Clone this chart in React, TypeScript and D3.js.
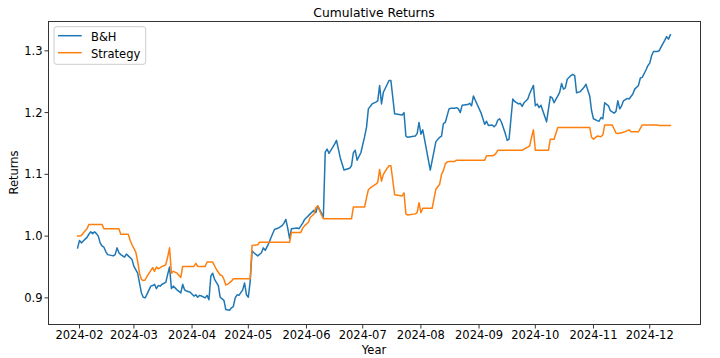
import React from "react";
import * as d3 from "d3";

const bhDates = [
  "2024-01-31","2024-02-01","2024-02-02","2024-02-03","2024-02-05","2024-02-06","2024-02-07","2024-02-08","2024-02-09","2024-02-10",
  "2024-02-11","2024-02-12","2024-02-13","2024-02-14","2024-02-15","2024-02-16","2024-02-19","2024-02-20","2024-02-21","2024-02-22",
  "2024-02-23","2024-02-25","2024-02-26","2024-02-27","2024-02-29","2024-03-01","2024-03-03","2024-03-04","2024-03-05","2024-03-06",
  "2024-03-07","2024-03-08","2024-03-10","2024-03-11","2024-03-12","2024-03-13","2024-03-14","2024-03-15","2024-03-16","2024-03-18",
  "2024-03-19","2024-03-20","2024-03-21","2024-03-22","2024-03-24","2024-03-26","2024-03-27","2024-03-28","2024-03-29","2024-03-31",
  "2024-04-02","2024-04-03","2024-04-04","2024-04-05","2024-04-06","2024-04-08","2024-04-09","2024-04-10","2024-04-11","2024-04-12",
  "2024-04-13","2024-04-15","2024-04-16","2024-04-18","2024-04-19","2024-04-21","2024-04-22","2024-04-23","2024-04-24","2024-04-25",
  "2024-04-26","2024-04-28","2024-04-29","2024-04-30","2024-05-01","2024-05-02","2024-05-03","2024-05-04","2024-05-06","2024-05-08",
  "2024-05-09","2024-05-10","2024-05-11","2024-05-12","2024-05-13","2024-05-15","2024-05-16","2024-05-17","2024-05-19","2024-05-20",
  "2024-05-21","2024-05-22","2024-05-23","2024-05-24","2024-05-27","2024-05-28","2024-05-30","2024-05-31","2024-06-03","2024-06-05",
  "2024-06-06","2024-06-07","2024-06-08","2024-06-10","2024-06-11","2024-06-12","2024-06-13","2024-06-16","2024-06-17","2024-06-19",
  "2024-06-21","2024-06-24","2024-06-25","2024-06-26","2024-06-27","2024-06-28","2024-06-30","2024-07-02","2024-07-03","2024-07-04",
  "2024-07-06","2024-07-08","2024-07-09","2024-07-10","2024-07-11","2024-07-12","2024-07-15","2024-07-16","2024-07-18","2024-07-22",
  "2024-07-23","2024-07-24","2024-07-25","2024-07-29","2024-07-30","2024-07-31","2024-08-01","2024-08-02","2024-08-06","2024-08-09",
  "2024-08-11","2024-08-12","2024-08-13","2024-08-14","2024-08-16","2024-08-17","2024-08-19","2024-08-20","2024-08-21","2024-08-22",
  "2024-08-23","2024-08-26","2024-08-27","2024-08-28","2024-08-29","2024-08-30","2024-09-02","2024-09-04","2024-09-05","2024-09-06",
  "2024-09-08","2024-09-09","2024-09-10","2024-09-11","2024-09-12","2024-09-13","2024-09-15","2024-09-16","2024-09-17","2024-09-19",
  "2024-09-20","2024-09-22","2024-09-23","2024-09-24","2024-09-25","2024-09-27","2024-09-28","2024-09-30","2024-10-01","2024-10-02",
  "2024-10-03","2024-10-04","2024-10-05","2024-10-07","2024-10-09","2024-10-10","2024-10-11","2024-10-13","2024-10-14","2024-10-15",
  "2024-10-16","2024-10-17","2024-10-18","2024-10-20","2024-10-21","2024-10-22","2024-10-23","2024-10-25","2024-10-27","2024-10-28",
  "2024-10-30","2024-10-31","2024-11-01","2024-11-03","2024-11-04","2024-11-05","2024-11-06","2024-11-07","2024-11-09","2024-11-10",
  "2024-11-12","2024-11-13","2024-11-14","2024-11-15","2024-11-16","2024-11-17","2024-11-19","2024-11-20","2024-11-22","2024-11-23",
  "2024-11-25","2024-11-26","2024-11-27","2024-11-29","2024-11-30","2024-12-01","2024-12-02","2024-12-03","2024-12-05","2024-12-06",
  "2024-12-07","2024-12-09","2024-12-10","2024-12-11","2024-12-12",
];
const bhValues = [
  0.981,0.993,0.989,0.992,0.998,1.003,1.007,1.004,1.007,1.004,
  1.000,0.989,0.984,0.982,0.975,0.970,0.968,0.970,0.981,0.973,
  0.970,0.966,0.971,0.968,0.962,0.951,0.940,0.924,0.908,0.901,
  0.900,0.906,0.919,0.920,0.922,0.915,0.920,0.919,0.922,0.925,
  0.938,0.950,0.915,0.919,0.913,0.908,0.922,0.913,0.911,0.909,
  0.903,0.905,0.901,0.904,0.903,0.900,0.904,0.897,0.935,0.940,
  0.930,0.920,0.901,0.896,0.881,0.880,0.884,0.886,0.900,0.905,
  0.904,0.913,0.924,0.905,0.901,0.927,0.976,0.973,0.968,0.973,
  0.981,0.977,0.983,0.989,0.997,1.011,1.012,1.013,1.017,1.021,
  1.027,1.013,0.996,1.012,1.013,1.012,1.021,1.027,1.036,1.042,
  1.038,1.049,1.043,1.031,1.136,1.141,1.134,1.149,1.155,1.127,
  1.107,1.110,1.114,1.135,1.139,1.123,1.135,1.161,1.176,1.206,
  1.214,1.217,1.219,1.244,1.214,1.233,1.252,1.252,1.198,1.196,
  1.200,1.162,1.160,1.162,1.166,1.184,1.165,1.172,1.107,1.153,
  1.160,1.162,1.182,1.184,1.206,1.207,1.207,1.208,1.206,1.200,
  1.212,1.213,1.215,1.211,1.227,1.220,1.200,1.181,1.186,1.179,
  1.180,1.177,1.180,1.188,1.190,1.184,1.166,1.155,1.157,1.222,
  1.218,1.214,1.215,1.210,1.216,1.222,1.231,1.244,1.211,1.214,
  1.208,1.212,1.203,1.185,1.226,1.224,1.216,1.227,1.233,1.247,
  1.238,1.240,1.254,1.260,1.262,1.260,1.232,1.234,1.241,1.246,
  1.227,1.203,1.190,1.187,1.186,1.192,1.190,1.216,1.211,1.203,
  1.199,1.202,1.219,1.206,1.211,1.219,1.223,1.222,1.230,1.238,
  1.244,1.256,1.257,1.269,1.276,1.280,1.292,1.299,1.299,1.300,
  1.306,1.317,1.323,1.319,1.326,
];

const stDates = [
  "2024-01-31","2024-02-01","2024-02-02","2024-02-03","2024-02-05","2024-02-06","2024-02-13","2024-02-14","2024-02-22","2024-02-23",
  "2024-02-27","2024-02-28","2024-02-29","2024-03-02","2024-03-03","2024-03-04","2024-03-05","2024-03-06","2024-03-07","2024-03-08",
  "2024-03-10","2024-03-11","2024-03-12","2024-03-13","2024-03-14","2024-03-16","2024-03-17","2024-03-18","2024-03-19","2024-03-20",
  "2024-03-21","2024-03-22","2024-03-24","2024-03-26","2024-03-27","2024-04-02","2024-04-03","2024-04-04","2024-04-08","2024-04-09",
  "2024-04-12","2024-04-14","2024-04-16","2024-04-17","2024-04-18","2024-04-19","2024-04-20","2024-04-22","2024-04-23","2024-05-02",
  "2024-05-03","2024-05-06","2024-05-07","2024-05-23","2024-05-24","2024-05-29","2024-05-30","2024-05-31","2024-06-02","2024-06-03",
  "2024-06-04","2024-06-05","2024-06-06","2024-06-07","2024-06-08","2024-06-10","2024-06-25","2024-06-26","2024-07-02","2024-07-03",
  "2024-07-04","2024-07-05","2024-07-08","2024-07-09","2024-07-10","2024-07-11","2024-07-12","2024-07-14","2024-07-15","2024-07-16",
  "2024-07-18","2024-07-22","2024-07-23","2024-07-24","2024-07-25","2024-07-29","2024-07-30","2024-07-31","2024-08-01","2024-08-02",
  "2024-08-07","2024-08-09","2024-08-11","2024-08-12","2024-08-13","2024-08-14","2024-08-15","2024-08-16","2024-08-19","2024-08-20",
  "2024-09-04","2024-09-05","2024-09-08","2024-09-09","2024-09-10","2024-09-11","2024-09-24","2024-09-25","2024-09-27","2024-09-28",
  "2024-09-29","2024-09-30","2024-10-01","2024-10-08","2024-10-09","2024-10-11","2024-10-13","2024-10-30","2024-10-31","2024-11-01",
  "2024-11-03","2024-11-05","2024-11-06","2024-11-07","2024-11-11","2024-11-13","2024-11-14","2024-11-17","2024-11-20","2024-11-21",
  "2024-11-25","2024-11-27","2024-12-05","2024-12-06","2024-12-12",
];
const stValues = [
  1.000,1.000,1.001,1.005,1.012,1.019,1.019,1.012,1.012,1.003,
  1.003,0.993,0.986,0.974,0.959,0.940,0.930,0.928,0.929,0.935,
  0.944,0.949,0.943,0.950,0.947,0.951,0.952,0.954,0.966,0.981,
  0.940,0.943,0.940,0.933,0.951,0.951,0.956,0.951,0.951,0.958,
  0.958,0.946,0.937,0.936,0.930,0.921,0.922,0.927,0.931,0.931,
  0.985,0.986,0.990,0.990,1.006,1.006,1.013,1.017,1.022,1.030,
  1.033,1.036,1.046,1.049,1.041,1.028,1.028,1.047,1.047,1.062,
  1.075,1.078,1.084,1.087,1.108,1.089,1.100,1.110,1.114,1.114,
  1.067,1.065,1.070,1.036,1.034,1.036,1.038,1.054,1.038,1.045,
  1.045,1.076,1.084,1.100,1.106,1.117,1.120,1.121,1.121,1.123,
  1.123,1.130,1.130,1.131,1.134,1.139,1.139,1.141,1.144,1.146,
  1.160,1.172,1.139,1.139,1.157,1.157,1.176,1.176,1.160,1.157,
  1.162,1.161,1.164,1.180,1.180,1.167,1.166,1.168,1.172,1.169,
  1.169,1.180,1.180,1.179,1.179,
];

const seriesNames = ["B&H", "Strategy"];
const seriesColors = ["#1f77b4", "#ff7f0e"];
const xTickLabels = ["2024-02","2024-03","2024-04","2024-05","2024-06","2024-07","2024-08","2024-09","2024-10","2024-11","2024-12"];
const yTickValues = [0.9, 1.0, 1.1, 1.2, 1.3];
const titleText = "Cumulative Returns";
const xLabel = "Year";
const yLabel = "Returns";

const W = 720;
const H = 358;
const M = { left: 48, right: 700, top: 21, bottom: 324 };
const FONT = "'DejaVu Sans', sans-serif";

export default function App() {
  const parse = d3.timeParse("%Y-%m-%d");
  const parseMonth = d3.timeParse("%Y-%m");
  const series = [
    bhDates.map((d, i) => ({ date: parse(d) as Date, value: bhValues[i] })),
    stDates.map((d, i) => ({ date: parse(d) as Date, value: stValues[i] })),
  ];
  const allDates = series.flat().map((p) => +p.date);
  const allVals = series.flat().map((p) => p.value);
  const [dMin, dMax] = [d3.min(allDates)!, d3.max(allDates)!];
  const [vMin, vMax] = [d3.min(allVals)!, d3.max(allVals)!];
  const dPad = (dMax - dMin) * 0.05;
  const vPad = (vMax - vMin) * 0.05;

  const x = d3.scaleTime().domain([new Date(dMin - dPad), new Date(dMax + dPad)]).range([M.left, M.right]);
  const y = d3.scaleLinear().domain([vMin - vPad, vMax + vPad]).range([M.bottom, M.top]);

  const line = d3
    .line<{ date: Date; value: number }>()
    .x((p) => x(p.date))
    .y((p) => y(p.value));

  const xTicks = xTickLabels.map((l) => ({ label: l, pos: x(parseMonth(l) as Date) }));
  const cx = (M.left + M.right) / 2;
  const cy = (M.top + M.bottom) / 2;

  return (
    <svg width={W} height={H} style={{ position: "absolute", left: 0, top: 0, background: "#fff" }} fontFamily={FONT}>
      <rect x={0} y={0} width={W} height={H} fill="#fff" />
      <defs>
        <clipPath id="plotclip">
          <rect x={M.left} y={M.top} width={M.right - M.left} height={M.bottom - M.top} />
        </clipPath>
      </defs>
      <g clipPath="url(#plotclip)">
        {series.map((s, i) => (
          <path key={i} d={line(s) || ""} fill="none" stroke={seriesColors[i]} strokeWidth={1.5} strokeLinejoin="round" strokeLinecap="square" />
        ))}
      </g>
      <rect x={M.left + 0.5} y={M.top + 0.5} width={M.right - M.left} height={M.bottom - M.top} fill="none" stroke="#333" strokeWidth={1} />
      {xTicks.map((t) => (
        <g key={t.label}>
          <line x1={t.pos} x2={t.pos} y1={M.bottom + 0.5} y2={M.bottom + 4.5} stroke="#333" strokeWidth={1} />
          <text x={t.pos} y={339} textAnchor="middle" fontSize={11.5} fill="#000">{t.label}</text>
        </g>
      ))}
      {yTickValues.map((v) => (
        <g key={v}>
          <line x1={M.left - 3.5} x2={M.left + 0.5} y1={y(v)} y2={y(v)} stroke="#333" strokeWidth={1} />
          <text x={42.5} y={y(v)} dy="0.36em" textAnchor="end" fontSize={11.5} fill="#000">{d3.format(".1f")(v)}</text>
        </g>
      ))}
      <text x={cx} y={16.5} textAnchor="middle" fontSize={12.3} fill="#000">{titleText}</text>
      <text x={cx} y={353.5} textAnchor="middle" fontSize={11.5} fill="#000">{xLabel}</text>
      <text transform={`translate(18.3,${cy}) rotate(-90)`} textAnchor="middle" fontSize={11.5} fill="#000">{yLabel}</text>
      <g>
        <rect x={54} y={26.7} width={91.7} height={37.6} rx={2.5} fill="#fff" fillOpacity={0.8} stroke="#ccc" strokeWidth={1} />
        {seriesNames.map((n, i) => (
          <g key={n}>
            <line x1={58} x2={81.7} y1={35.7 + i * 17} y2={35.7 + i * 17} stroke={seriesColors[i]} strokeWidth={1.5} />
            <text x={91} y={40.5 + i * 17} fontSize={11.5} fill="#000">{n}</text>
          </g>
        ))}
      </g>
    </svg>
  );
}
